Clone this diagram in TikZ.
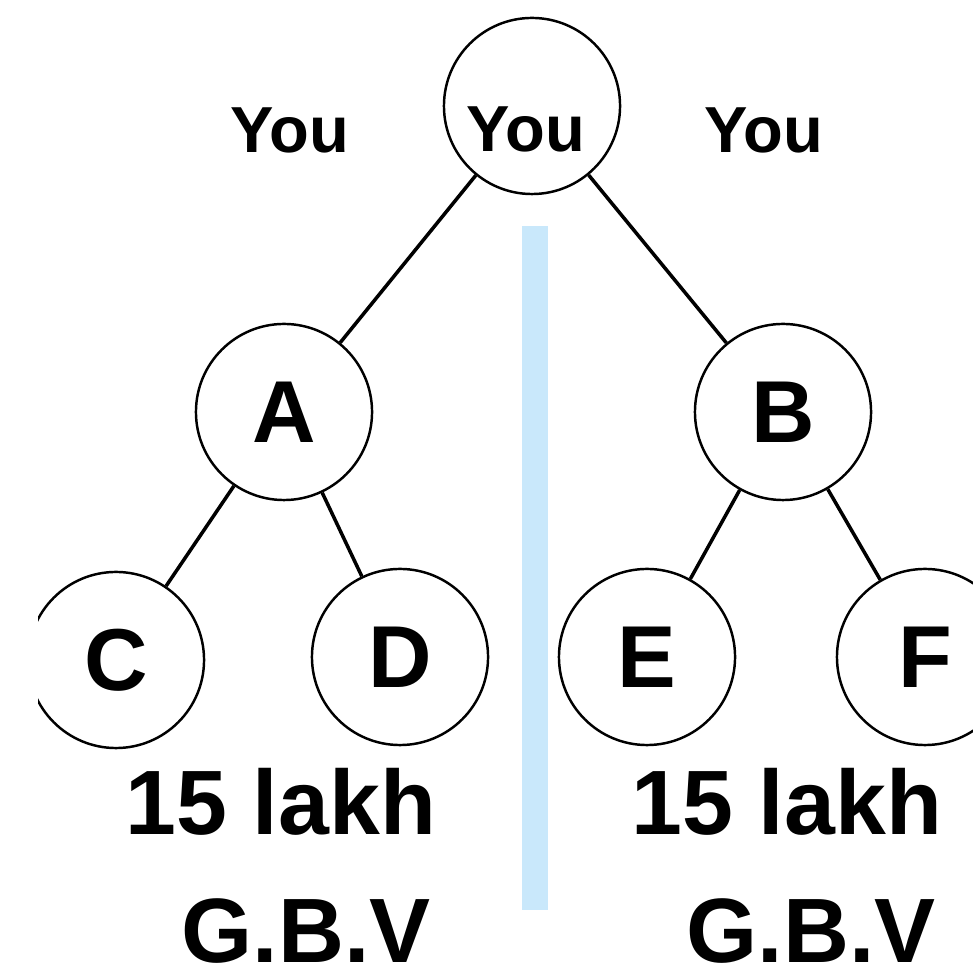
\documentclass[tikz,border=0pt]{standalone}
\usepackage{fontspec}
\setmainfont{Liberation Sans}
\definecolor{barblue}{HTML}{C9E8FB}
\begin{document}
\begin{tikzpicture}[x = 0.01cm, y = -0.01cm,
    pers/.style = {draw, circle, line width = .7pt, minimum size = 1.76cm, inner sep = 0pt,
                   font = \fontsize{25}{30}\selectfont\bfseries},
    who/.style = {anchor = base, inner sep = 0pt, font = \fontsize{18.5}{22}\selectfont\bfseries},
    total/.style = {anchor = base, inner sep = 0pt, font = \fontsize{26}{31}\selectfont\bfseries},
    link/.style = {line width = 1pt}]
  \useasboundingbox (0,0) rectangle (973,971);
  \begin{scope}
    \clip (38,0) rectangle (973,971);
    % divider
    \fill [barblue] (522,226) rectangle (548,910);
    % people
    \node [pers] (you) at (532,106) {};
    \node [pers] (a) at (284,412) {A};
    \node [pers] (b) at (783,412) {B};
    \node [pers] (c) at (116,660) {C};
    \node [pers] (d) at (400,657) {D};
    \node [pers] (e) at (647,657) {E};
    \node [pers] (f) at (925,657) {F};
    \draw [link] (you) -- (a);
    \draw [link] (you) -- (b);
    \draw [link] (a) -- (c);
    \draw [link] (a) -- (d);
    \draw [link] (b) -- (e);
    \draw [link] (b) -- (f);
  \end{scope}
  % labels
  \node [who] (youl) at (290,153) {You};
  \node [who] (youm) at (526,152) {You};
  \node [who] (your) at (764,153) {You};
  \node [total] (suml) at (281,835) {15 lakh};
  \node [total] (sumr) at (787,835) {15 lakh};
  \node [total] (gbvl) at (306,962) {G.B.V};
  \node [total] (gbvr) at (811,962) {G.B.V};
\end{tikzpicture}
\end{document}
